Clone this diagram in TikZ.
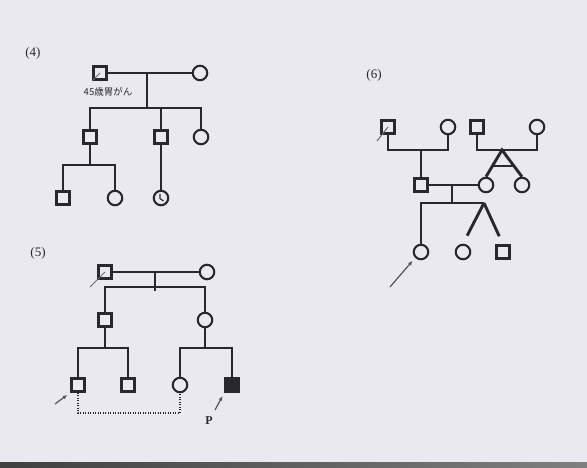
\documentclass[tikz,border=0pt]{standalone}
\usepackage{fontspec}
\setmainfont{Liberation Serif}
\newfontfamily\jpfont{Noto Sans CJK JP}
\usetikzlibrary{arrows.meta,calc}
\definecolor{paper}{RGB}{233,233,239}
\definecolor{ink}{RGB}{40,40,46}
\tikzset{
  ln/.style={draw=ink,line width=2.9pt},
  sq/.style={rectangle,draw=ink,line width=2.1pt,minimum size=13pt,inner sep=0pt,fill=paper},
  sqblack/.style={sq,fill=ink},
  ci/.style={circle,draw=ink,line width=2.1pt,minimum size=14.5pt,inner sep=0pt,fill=paper},
  lbl/.style={font=\fontsize{13}{13}\selectfont,text=ink,inner sep=0pt},
  slash/.style={draw=ink!70,line width=1pt},
  probarrow/.style={draw=ink!80,line width=1.2pt,-{Latex[length=4.5pt,width=4pt]},shorten >=4pt},
  consang/.style={draw=ink,line width=2.8pt,dash pattern=on 1.4pt off 1.1pt}
}
\begin{document}
\begin{tikzpicture}[x=1pt,y=-1pt]
% paper and lower edge
\fill[paper] (0,0) rectangle (587,468);
\shade[left color=black!75,right color=black!50] (0,462) rectangle (587,468);
\useasboundingbox (0,0) rectangle (587,468);

% ---------- (4) ----------
\node[lbl] (l4) at (33,53) {(4)};
\node[sq] (a1) at (100,73) {};
\node[ci] (a2) at (200,73) {};
\draw[ln] (a1) -- (a2);
\draw[slash] (a1.south west) -- (a1.center);
\node[font=\jpfont\fontsize{9.5}{10}\selectfont,text=ink,inner sep=0pt] (t4) at (108,92) {45歳胃がん};
\coordinate (a12) at (147,73);
\coordinate (s4) at (147,108);
\draw[ln] (a12) -- (s4);
\node[sq] (b1) at (90,137) {};
\node[sq] (b2) at (161,137) {};
\node[ci] (b3) at (201,137) {};
\draw[ln] (b1.north) |- (s4) -| (b3.north);
\draw[ln] (b2.north) -- (b2.north |- s4);
\coordinate (s4b) at (90,165);
\node[sq] (c1) at (63,198) {};
\node[ci] (c2) at (115,198) {};
\draw[ln] (b1.south) -- (s4b);
\draw[ln] (c1.north) |- (s4b) -| (c2.north);
\node[ci] (c3) at (161,198) {};
\draw[ln] (b2.south) -- (c3.north);
\draw[draw=ink,line width=1.2pt] (c3.center) ++(-1,-4) -- ++(0,4.5) -- ++(3.5,2.5);

% ---------- (5) ----------
\node[lbl] (l5) at (38,253) {(5)};
\node[sq] (d1) at (105,272) {};
\node[ci] (d2) at (207,272) {};
\draw[ln] (d1) -- (d2);
\draw[slash] (90,287) -- (d1.center);
\coordinate (d12) at (155,272);
\coordinate (s5) at (155,287);
\draw[ln] (d12) -- ($(s5)+(0,4)$);
\node[sq] (e1) at (105,320) {};
\node[ci] (e2) at (205,320) {};
\draw[ln] (e1.north) |- (s5) -| (e2.north);
\coordinate (s5a) at (105,348);
\coordinate (s5b) at (205,348);
\draw[ln] (e1.south) -- (s5a);
\draw[ln] (e2.south) -- (s5b);
\node[sq] (f1) at (78,385) {};
\node[sq] (f2) at (128,385) {};
\node[ci] (f3) at (180,385) {};
\node[sqblack] (f4) at (232,385) {};
\draw[ln] (f1.north) |- (s5a) -| (f2.north);
\draw[ln] (f3.north) |- (s5b) -| (f4.north);
\coordinate (dl) at (130,413);
\draw[consang] (f1.south) |- (dl) -| (f3.south);
\coordinate (p1) at (55,404);
\draw[probarrow] (p1) -- (f1.south west);
\coordinate (p2) at (215,410);
\draw[probarrow] (p2) -- (f4.south west);
\node[lbl,font=\bfseries\fontsize{12}{12}\selectfont] (pp) at (209,421) {P};

% ---------- (6) ----------
\node[lbl] (l6) at (374,75) {(6)};
\node[sq] (g1) at (388,127) {};
\node[ci] (g2) at (448,127) {};
\node[sq] (g3) at (477,127) {};
\node[ci] (g4) at (537,127) {};
\draw[slash] (377,141) -- (g1.center);
\coordinate (m1) at (421,150);
\coordinate (m2) at (502,150);
\draw[ln] (g1.south) |- (m1) -| (g2.south);
\draw[ln] (g3.south) |- (m2) -| (g4.south);
\node[sq] (h1) at (421,185) {};
\node[ci] (h2) at (486,185) {};
\node[ci] (h3) at (522,185) {};
\draw[ln] (m1) -- (h1.north);
\draw[ln] (h2.north) -- (m2) -- (h3.north);
\draw[ln] ($(m2)!0.6!(h2.north)$) -- ($(m2)!0.6!(h3.north)$);
\draw[ln] (h1) -- (h2);
\coordinate (h12) at (452,185);
\coordinate (s6) at (452,203);
\coordinate (tw) at (484,203);
\draw[ln] (h12) -- (s6);
\node[ci] (i1) at (421,252) {};
\node[ci] (i2) at (463,252) {};
\node[sq] (i3) at (503,252) {};
\draw[ln] (i1.north) |- (s6) -- (tw);
\draw[ln,shorten >=9pt] (tw) -- (i2.north);
\draw[ln,shorten >=9pt] (tw) -- (i3.north);
\coordinate (p3) at (390,287);
\draw[probarrow] (p3) -- (i1.south west);
\end{tikzpicture}
\end{document}
